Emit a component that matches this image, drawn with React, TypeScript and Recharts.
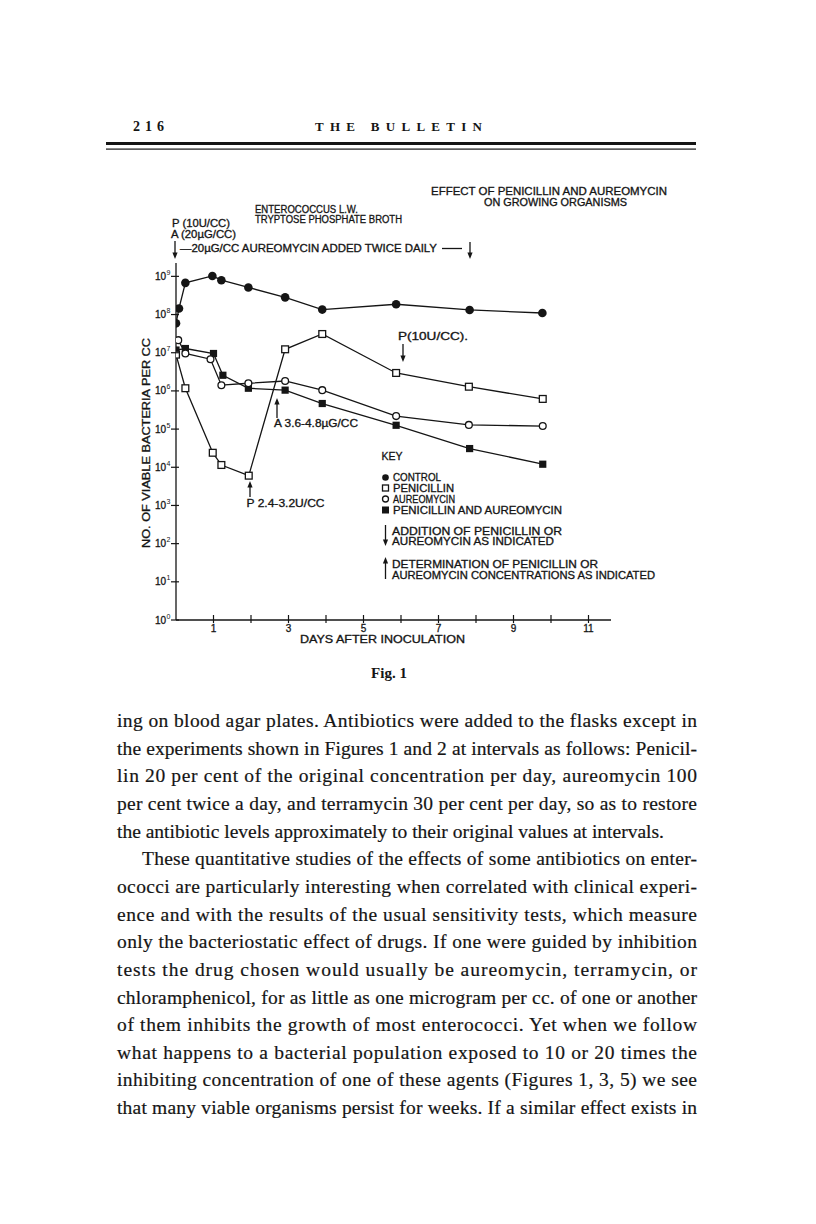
import React from 'react';
import { LineChart, Line, XAxis, YAxis } from 'recharts';

// days after inoculation, log10 of viable bacteria per cc
const controlDays = [0, 0.08, 0.25, 0.97, 1.21, 1.93, 2.91, 3.9, 5.87, 7.83, 9.77];
const controlLog = [7.77, 8.16, 8.83, 9.01, 8.9, 8.71, 8.45, 8.13, 8.27, 8.12, 8.04];

const penicillinDays = [0, 0.25, 0.98, 1.21, 1.94, 2.91, 3.9, 5.87, 7.81, 9.78];
const penicillinLog = [6.95, 6.07, 4.38, 4.06, 3.78, 7.09, 7.49, 6.47, 6.11, 5.79];

const aureomycinDays = [0.06, 0.25, 0.92, 1.21, 1.93, 2.91, 3.9, 5.87, 7.81, 9.78];
const aureomycinLog = [7.33, 6.98, 6.83, 6.15, 6.2, 6.26, 6.02, 5.34, 5.11, 5.08];

const bothDays = [0, 0.25, 1.0, 1.25, 1.93, 2.91, 3.9, 5.87, 7.83, 9.78];
const bothLog = [7.07, 7.11, 6.98, 6.41, 6.07, 6.02, 5.67, 5.1, 4.49, 4.08];

const dayTicks = [1, 2, 3, 4, 5, 6, 7, 8, 9, 10, 11];
const labeledDays = [1, 3, 5, 7, 9, 11];
const decadeTicks = [0, 1, 2, 3, 4, 5, 6, 7, 8, 9];

const bodyLines = [
  'ing on blood agar plates. Antibiotics were added to the flasks except in',
  'the experiments shown in Figures 1 and 2 at intervals as follows: Penicil-',
  'lin 20 per cent of the original concentration per day, aureomycin 100',
  'per cent twice a day, and terramycin 30 per cent per day, so as to restore',
  'the antibiotic levels approximately to their original values at intervals.',
  'These quantitative studies of the effects of some antibiotics on enter-',
  'ococci are particularly interesting when correlated with clinical experi-',
  'ence and with the results of the usual sensitivity tests, which measure',
  'only the bacteriostatic effect of drugs. If one were guided by inhibition',
  'tests the drug chosen would usually be aureomycin, terramycin, or',
  'chloramphenicol, for as little as one microgram per cc. of one or another',
  'of them inhibits the growth of most enterococci. Yet when we follow',
  'what happens to a bacterial population exposed to 10 or 20 times the',
  'inhibiting concentration of one of these agents (Figures 1, 3, 5) we see',
  'that many viable organisms persist for weeks. If a similar effect exists in',
];

const ink = '#151515';
const sans = '"Liberation Sans", Arial, sans-serif';
const serif = '"Liberation Serif", "Times New Roman", serif';

const toPoints = (days: number[], logs: number[]) =>
  days.map((d, i) => ({ day: d, log: logs[i] }));

const XTick = (props: any) => {
  const { x, y, payload } = props;
  const show = labeledDays.includes(payload.value);
  return (
    <g>
      <line x1={x} x2={x} y1={y - 5} y2={y + 3} stroke={ink} strokeWidth={1.2} />
      {show && (
        <text x={x} y={y + 12} textAnchor="middle" fontFamily={sans} fontSize={10} fill={ink} stroke={ink} strokeWidth={0.3}>
          {payload.value}
        </text>
      )}
    </g>
  );
};

const YTick = (props: any) => {
  const { x, y, payload } = props;
  return (
    <g>
      <line x1={x - 5} x2={x + 3} y1={y} y2={y} stroke={ink} strokeWidth={1.2} />
      <text x={x - 10} y={y + 3.5} textAnchor="end" fontFamily={sans} fontSize={10} fill={ink} stroke={ink} strokeWidth={0.3}>
        10
      </text>
      <text x={x - 9.5} y={y - 1.5} fontFamily={sans} fontSize={7} fill={ink}>
        {payload.value}
      </text>
    </g>
  );
};

const filledCircle = (p: any) => (
  <circle key={p.index} cx={p.cx} cy={p.cy} r={4.3} fill={ink} />
);
const openCircle = (p: any) => (
  <circle key={p.index} cx={p.cx} cy={p.cy} r={3.4} fill="#fff" stroke={ink} strokeWidth={1.3} />
);
const openSquare = (p: any) => (
  <rect key={p.index} x={p.cx - 3.4} y={p.cy - 3.4} width={6.8} height={6.8} fill="#fff" stroke={ink} strokeWidth={1.3} />
);
const filledSquare = (p: any) => (
  <rect key={p.index} x={p.cx - 3.6} y={p.cy - 3.6} width={7.2} height={7.2} fill={ink} />
);

function Arrow({ x, from, to }: { x: number; from: number; to: number }) {
  const dir = to > from ? 1 : -1;
  return (
    <g>
      <line x1={x} x2={x} y1={from} y2={to - dir * 4} stroke={ink} strokeWidth={1.3} />
      <path
        d={`M${x - 2.6},${to - dir * 6.5} L${x + 2.6},${to - dir * 6.5} L${x},${to} Z`}
        fill={ink}
      />
    </g>
  );
}

function Label({ x, y, w, children }: { x: number; y: number; w?: number; children: React.ReactNode }) {
  return (
    <text
      x={x}
      y={y}
      fontFamily={sans}
      fontSize={10}
      fill={ink}
      stroke={ink}
      strokeWidth={0.3}
      textLength={w}
      lengthAdjust={w ? 'spacingAndGlyphs' : undefined}
    >
      {children}
    </text>
  );
}

export default function App() {
  return (
    <div style={{ position: 'relative', width: 816, height: 1224, background: '#fff', overflow: 'hidden' }}>
      <style>{'body{margin:0;background:#fff}'}</style>

      <div style={{ position: 'absolute', left: 0, top: 0 }}>
        <LineChart width={816} height={700} margin={{ top: 263, right: 205, bottom: 50, left: 116 }}>
          <XAxis
            dataKey="day"
            type="number"
            domain={[0, 11.6]}
            ticks={dayTicks}
            interval={0}
            tickSize={0}
            tickMargin={0}
            tickLine={false}
            axisLine={{ stroke: ink, strokeWidth: 1.3 }}
            tick={<XTick />}
            height={30}
            allowDataOverflow
          />
          <YAxis
            dataKey="log"
            type="number"
            domain={[0, 9.35]}
            ticks={decadeTicks}
            interval={0}
            tickSize={0}
            tickMargin={0}
            tickLine={false}
            axisLine={{ stroke: ink, strokeWidth: 1.3 }}
            tick={<YTick />}
            width={60}
            allowDataOverflow
          />
          <Line data={toPoints(controlDays, controlLog)} dataKey="log" type="linear" stroke={ink} strokeWidth={1.3} dot={filledCircle} isAnimationActive={false} />
          <Line data={toPoints(bothDays, bothLog)} dataKey="log" type="linear" stroke={ink} strokeWidth={1.3} dot={filledSquare} isAnimationActive={false} />
          <Line data={toPoints(aureomycinDays, aureomycinLog)} dataKey="log" type="linear" stroke={ink} strokeWidth={1.3} dot={openCircle} isAnimationActive={false} />
          <Line data={toPoints(penicillinDays, penicillinLog)} dataKey="log" type="linear" stroke={ink} strokeWidth={1.3} dot={openSquare} isAnimationActive={false} />
        </LineChart>
      </div>

      <svg width={816} height={1224} style={{ position: 'absolute', left: 0, top: 0, pointerEvents: 'none' }}>
        {/* running head */}
        <text x={133} y={131} fontFamily={serif} fontWeight={700} fontSize={14} fill={ink} letterSpacing={5}>
          216
        </text>
        <text x={315} y={131} fontFamily={serif} fontWeight={700} fontSize={13} fill={ink} textLength={167} lengthAdjust="spacing">
          THE BULLETIN
        </text>
        <rect x={106} y={142} width={590} height={3} fill={ink} />
        <rect x={106} y={148.5} width={590} height={1.2} fill={ink} />

        {/* titles above the plot */}
        <Label x={431} y={195} w={236}>EFFECT OF PENICILLIN AND AUREOMYCIN</Label>
        <Label x={484} y={206} w={143}>ON GROWING ORGANISMS</Label>
        <Label x={255} y={212.5} w={103}>ENTEROCOCCUS L.W.</Label>
        <Label x={255} y={222.5} w={147}>TRYPTOSE PHOSPHATE BROTH</Label>
        <Label x={172} y={226.5} w={58}>P (10U/CC)</Label>
        <Label x={171} y={238} w={65}>A (20µG/CC)</Label>
        <Label x={180} y={252} w={257}>—20µG/CC AUREOMYCIN ADDED TWICE DAILY</Label>
        <line x1={442} x2={462} y1={248.5} y2={248.5} stroke={ink} strokeWidth={1.3} />
        <Arrow x={175} from={241} to={259} />
        <Arrow x={470} from={242} to={259} />

        {/* annotations in the plot */}
        <Label x={398} y={340} w={70}>P(10U/CC).</Label>
        <Arrow x={403} from={344} to={362} />
        <Arrow x={277} from={418} to={398} />
        <Label x={274} y={427} w={84}>A 3.6-4.8µG/CC</Label>
        <Arrow x={250} from={497} to={481} />
        <Label x={246.5} y={507} w={78}>P 2.4-3.2U/CC</Label>

        {/* key */}
        <Label x={381.5} y={460} w={21}>KEY</Label>
        <circle cx={385.5} cy={477.5} r={3.3} fill={ink} />
        <rect x={382.5} y={485} width={6} height={6} fill="#fff" stroke={ink} strokeWidth={1.3} />
        <circle cx={385.5} cy={499} r={3} fill="#fff" stroke={ink} strokeWidth={1.3} />
        <rect x={382} y={506.5} width={7} height={7} fill={ink} />
        <Label x={393} y={481} w={48}>CONTROL</Label>
        <Label x={393} y={492} w={61}>PENICILLIN</Label>
        <Label x={393} y={503} w={62}>AUREOMYCIN</Label>
        <Label x={393} y={513.5} w={169}>PENICILLIN AND AUREOMYCIN</Label>
        <Arrow x={385.5} from={525} to={546} />
        <Label x={392} y={534.5} w={170}>ADDITION OF PENICILLIN OR</Label>
        <Label x={392} y={545} w={162}>AUREOMYCIN AS INDICATED</Label>
        <Arrow x={385.5} from={579} to={557} />
        <Label x={392} y={567.5} w={206}>DETERMINATION OF PENICILLIN OR</Label>
        <Label x={392} y={578.5} w={263}>AUREOMYCIN CONCENTRATIONS AS INDICATED</Label>

        {/* axis titles */}
        <Label x={300} y={643} w={165}>DAYS AFTER INOCULATION</Label>
        <text
          x={150}
          y={443}
          transform="rotate(-90 150 443)"
          textAnchor="middle"
          fontFamily={sans}
          fontSize={10}
          fill={ink}
          stroke={ink}
          strokeWidth={0.3}
          textLength={210}
          lengthAdjust="spacingAndGlyphs"
        >
          NO. OF VIABLE BACTERIA PER CC
        </text>

        <text x={389} y={678} textAnchor="middle" fontFamily={serif} fontWeight={700} fontSize={15} fill={ink}>
          Fig. 1
        </text>

        {/* body text */}
        {bodyLines.map((line, i) => {
          const indent = i === 5 ? 25 : 0;
          const justified = i !== 4;
          return (
            <text
              key={i}
              x={117 + indent}
              y={727 + i * 27.65}
              fontFamily={serif}
              fontSize={19.5}
              fill={ink}
              stroke={ink}
              strokeWidth={0.2}
              textLength={justified ? 580 - indent : undefined}
              lengthAdjust={justified ? 'spacing' : undefined}
            >
              {line}
            </text>
          );
        })}
      </svg>
    </div>
  );
}
